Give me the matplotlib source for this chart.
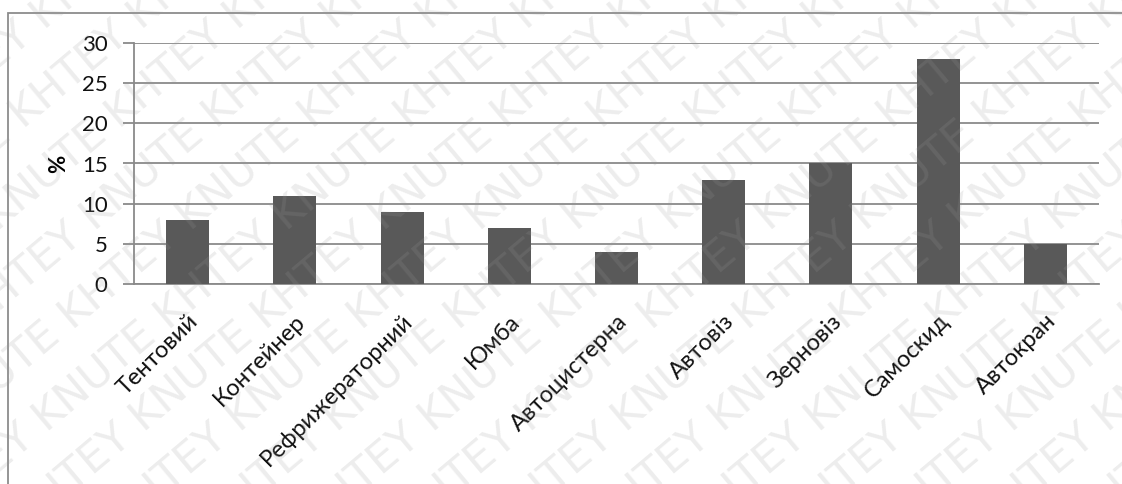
import numpy as np
import matplotlib
matplotlib.use("Agg")
import matplotlib.pyplot as plt
from matplotlib.patches import Rectangle

# --- data ---
categories = ["Тентовий", "Контейнер", "Рефрижераторний", "Юмба", "Автоцистерна",
              "Автовіз", "Зерновіз", "Самоскид", "Автокран"]
shares = [8, 11, 9, 7, 4, 13, 15, 28, 5]
y_ticks = [0, 5, 10, 15, 20, 25, 30]

plt.rcParams['font.family'] = ['Lato', 'DejaVu Sans']

W, H = 1122, 484
fig = plt.figure(figsize=(W / 100, H / 100), dpi=100)
fig.patch.set_facecolor('white')

# chart frame (only left and top edges fall inside the canvas)
fig.add_artist(Rectangle((8 / W, -0.05), 1.1, (H - 13) / H + 0.05, transform=fig.transFigure,
                         fill=False, edgecolor='#8c8c8c', linewidth=1.3))

ax = fig.add_axes([134 / W, 1 - 284 / H, (1099 - 134) / W, (284 - 43) / H])
x = np.arange(len(categories))
ax.bar(x, shares, width=0.4, color='#595959', zorder=3)

ax.set_xlim(-0.5, len(categories) - 0.5)
ax.set_ylim(0, 30)
ax.set_yticks(y_ticks)
ax.set_yticklabels([str(v) for v in y_ticks], fontsize=16, color='#111111')
ax.yaxis.grid(True, color='#8a8a8a', linewidth=1.3, zorder=0)
ax.set_axisbelow(True)
ax.tick_params(axis='y', length=8, color='#8a8a8a', width=1.3, pad=11)
ax.tick_params(axis='x', length=0, pad=19)
ax.set_xticks(x)
ax.set_xticklabels(categories, rotation=45, ha='right', rotation_mode='anchor',
                   fontsize=17, color='#111111')

for side in ['top', 'right']:
    ax.spines[side].set_visible(False)
for side in ['left', 'bottom']:
    ax.spines[side].set_color('#8a8a8a')
    ax.spines[side].set_linewidth(1.3)
ax.set_ylabel('%', fontsize=16, fontweight='bold', labelpad=9)

# faint diagonal watermark, clipped to the canvas
wm = fig.add_axes([0, 0, 1, 1], zorder=10)
wm.set_xlim(0, W)
wm.set_ylim(0, H)
wm.axis('off')
wm.patch.set_alpha(0)
mark = "KNUTE KHTEY " * 6
ang = np.deg2rad(40)
for k in range(-14, 22):
    ox = 62 * k / np.sin(ang)
    wm.text(ox, -150, mark, rotation=40, rotation_mode='anchor', ha='left', va='baseline',
            fontsize=31, color='#9a9a9a', alpha=0.18, family='DejaVu Sans', clip_on=True)

fig.savefig('out.png', dpi=100, facecolor='white')
